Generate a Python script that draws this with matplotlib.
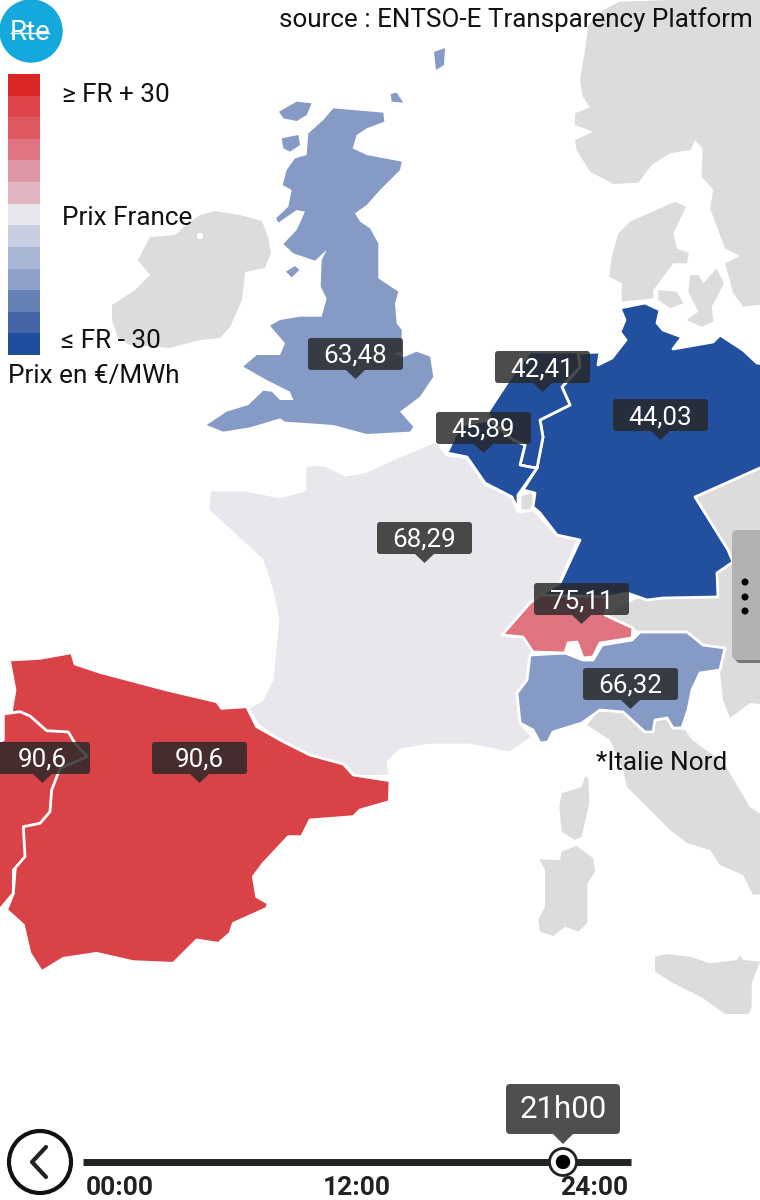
import matplotlib
matplotlib.use('Agg')
import matplotlib.pyplot as plt
from matplotlib.patches import Circle, FancyBboxPatch, Rectangle

plt.rcParams['font.family'] = ['Roboto', 'DejaVu Sans']

# prices shown on the map
price_labels = ['63,48', '42,41', '44,03', '45,89', '68,29', '75,11', '66,32', '90,6', '90,6']
label_left = [308, 495, 613, 436, 377, 534, 583, -5, 152]
label_top = [338, 351, 399, 412, 522, 583, 668, 742, 742]

legend_colors = ['#DC2626', '#DD4349', '#DF5A60', '#DF7480', '#E097A5', '#E2B5C1', '#E9E6EE',
                 '#C8CEE2', '#A9B7D6', '#8CA0C8', '#6582B7', '#4466A9', '#1F4E9E']
time_ticks = ['00:00', '12:00', '24:00']
time_tick_x = [120, 357, 594]
current_time = '21h00'

GREY = '#DCDCDC'
FR_COL = '#E9E6EE'
DE_COL = '#22509E'
UK_COL = '#859BC6'
ES_COL = '#D94246'
CH_COL = '#DF7480'


def crop(pts, x0, y0):
    return [(x0 + p[0] / 3, y0 + p[1] / 3) for p in pts]


gb = crop([(400, 55), (550, 68), (553, 95), (500, 115), (470, 135), (458, 175), (500, 195), (605, 215),
           (600, 240), (540, 300), (500, 345), (465, 370), (480, 395), (510, 415), (535, 460), (535, 565),
           (595, 605), (585, 640), (590, 700), (605, 720), (605, 785), (580, 790), (610, 802), (650, 785),
           (690, 800), (700, 860), (660, 920), (600, 965), (640, 1010), (630, 1025), (500, 1032), (400, 1005),
           (330, 1000), (255, 995), (240, 985), (150, 1012), (70, 1025), (20, 1005), (80, 965), (145, 945),
           (190, 902), (215, 905), (240, 930), (280, 930), (270, 905), (200, 870), (130, 830), (170, 795),
           (240, 795), (255, 760), (210, 707), (240, 690), (300, 680), (365, 680), (380, 625), (362, 590),
           (365, 510), (380, 480), (345, 512), (280, 490), (250, 462), (290, 420), (315, 365), (290, 360),
           (235, 398), (228, 385), (265, 350), (275, 300), (248, 285), (260, 240), (285, 205), (320, 195),
           (325, 130), (370, 90)], 200, 90)
gb_isles = [crop([(237, 65), (290, 35), (335, 40), (320, 75), (290, 93), (250, 85)], 200, 90),
            crop([(245, 145), (295, 135), (300, 165), (270, 185), (250, 175)], 200, 90),
            crop([(572, 12), (590, 8), (610, 38), (575, 35)], 200, 90),
            crop([(258, 545), (285, 528), (298, 540), (275, 562)], 200, 90),
            [(434, 52), (445, 48), (444, 65), (436, 70)]]
ireland = [(200, 215), (215, 211), (240, 215), (262, 221), (268, 237), (271, 253), (265, 268), (245, 272),
           (242, 300), (230, 327), (220, 338), (200, 340), (170, 348), (130, 345), (118, 338), (112, 320),
           (112, 305), (135, 290), (150, 275), (138, 260), (150, 237), (175, 235), (190, 222)]
france = [(436, 441), (447, 455), (467, 458), (485, 484), (512, 497), (518, 512), (534, 510), (552, 530),
          (578, 540), (565, 570), (560, 583), (540, 600), (530, 603), (502, 635), (523, 637), (533, 652),
          (530, 655), (527, 680), (517, 693), (520, 723), (533, 737), (510, 753), (470, 745), (430, 745),
          (400, 750), (388, 762), (390, 776), (355, 777), (345, 765), (310, 755), (280, 740), (258, 725),
          (248, 708), (262, 700), (272, 680), (275, 650), (278, 620), (272, 590), (262, 560), (235, 535),
          (208, 510), (210, 490), (245, 490), (280, 497), (305, 490), (305, 465), (325, 465), (345, 475),
          (365, 472), (395, 458)]
spain = crop([(28, 60), (120, 55), (215, 38), (225, 72), (300, 97), (500, 150), (650, 185), (665, 205),
              (740, 200), (770, 260), (850, 305), (930, 345), (1030, 372), (1060, 405), (1170, 422),
              (1168, 485), (1080, 510), (1060, 530), (930, 540), (905, 590), (865, 590), (790, 670),
              (760, 710), (770, 770), (805, 790), (800, 805), (700, 850), (690, 880), (655, 910), (590, 900),
              (520, 970), (400, 965), (290, 940), (190, 955), (125, 995), (90, 940), (70, 855), (20, 810),
              (40, 760), (60, 500), (35, 210), (45, 150)], 0, 640)
portugal = crop([(10, 222), (60, 215), (90, 228), (140, 272), (205, 276), (225, 310), (262, 350), (180, 385),
                 (155, 450), (150, 515), (120, 550), (70, 560), (75, 650), (40, 690), (40, 760), (0, 808),
                 (-20, 808), (-20, 310), (10, 300)], 0, 640)
germany = [(578, 353), (600, 352), (598, 365), (612, 358), (626, 340), (620, 332), (625, 320), (620, 308),
           (645, 303), (660, 310), (657, 323), (663, 330), (682, 337), (673, 349), (713, 342), (720, 335),
           (743, 350), (757, 363), (770, 365), (770, 463), (760, 468), (695, 497), (728, 550), (733, 562),
           (717, 573), (718, 597), (663, 598), (647, 600), (627, 593), (607, 597), (540, 595), (560, 583),
           (580, 540), (557, 535), (540, 513), (533, 507), (535, 493), (523, 490), (537, 468), (543, 437),
           (540, 420), (570, 405), (562, 387), (580, 367)]
netherlands = [(488, 412), (507, 383), (530, 352), (578, 352), (580, 367), (562, 387), (570, 405), (540, 420),
               (543, 437), (537, 468), (530, 467), (520, 465), (525, 445), (513, 440), (490, 420)]
belgium = [(447, 453), (467, 457), (485, 483), (512, 497), (518, 510), (518, 495), (537, 468), (530, 467),
           (520, 465), (525, 445), (513, 440), (490, 420), (460, 425)]
luxembourg = [(520, 495), (533, 491), (535, 503), (530, 512), (520, 510)]
switzerland = [(502, 635), (530, 603), (540, 595), (607, 597), (605, 615), (633, 628), (632, 638), (600, 643),
               (593, 657), (583, 658), (577, 642), (568, 643), (565, 653), (533, 652), (523, 637)]
italy_north = [(530, 655), (565, 653), (583, 660), (593, 660), (602, 645), (632, 640), (640, 632), (687, 632),
               (703, 645), (725, 648), (720, 670), (700, 673), (692, 690), (688, 710), (682, 728), (673, 728),
               (667, 718), (655, 720), (653, 732), (645, 732), (623, 712), (600, 710), (582, 723), (553, 732),
               (548, 742), (540, 743), (533, 730), (520, 723), (517, 693), (527, 680)]
italy_south = [(587, 725), (598, 712), (623, 712), (645, 732), (653, 732), (655, 720), (667, 718), (673, 728),
               (685, 730), (692, 740), (723, 762), (750, 807), (770, 820), (770, 893), (753, 895), (743, 875),
               (720, 865), (710, 850), (687, 843), (670, 830), (647, 807), (627, 787), (623, 770), (610, 740)]
central_east = [(695, 497), (770, 463), (770, 705), (750, 703), (730, 718), (723, 700), (720, 672), (725, 648),
                (703, 645), (687, 632), (640, 632), (633, 628), (605, 615), (640, 597), (718, 590), (717, 573),
                (728, 550)]
corsica = crop([(225, 260), (235, 265), (238, 340), (215, 440), (195, 450), (155, 425), (148, 350), (155, 310),
                (215, 290)], 510, 690)
sardinia = crop([(200, 468), (250, 505), (255, 545), (232, 580), (232, 700), (205, 725), (165, 710), (130, 738),
                 (90, 725), (85, 690), (105, 650), (105, 540), (88, 508), (150, 510), (155, 485)], 510, 690)
sicily = crop([(435, 800), (470, 792), (540, 800), (600, 820), (680, 810), (690, 797), (700, 810), (750, 815),
               (725, 880), (725, 950), (715, 972), (645, 972), (580, 925), (490, 880), (435, 845)], 510, 690)
scandinavia = crop([(300, 5), (760, -10), (760, 910), (670, 920), (640, 880), (615, 790), (660, 768), (615, 745),
                    (570, 625), (580, 570), (545, 530), (548, 445), (525, 420), (512, 450), (450, 460), (395, 495),
                    (355, 548), (280, 552), (210, 515), (170, 450), (165, 420), (220, 395), (165, 375), (165, 340),
                    (210, 322), (188, 290), (180, 240), (195, 150), (205, 75), (250, 30)], 520, 0)
denmark = crop([(465, 605), (498, 620), (460, 700), (470, 745), (507, 760), (500, 790), (460, 790), (400, 870),
                (400, 895), (305, 905), (305, 850), (268, 830), (275, 770), (295, 700), (330, 665)], 520, 0)
dk_isles = [crop([(415, 870), (470, 875), (490, 910), (450, 925), (415, 900)], 520, 0),
            crop([(510, 825), (535, 825), (550, 850), (590, 805), (612, 850), (575, 920), (580, 965), (545, 980),
                  (500, 960), (535, 935), (505, 875)], 520, 0)]

fig = plt.figure(figsize=(7.6, 12), dpi=100)
ax = fig.add_axes([0, 0, 1, 1])
ax.set_xlim(0, 760)
ax.set_ylim(1200, 0)
ax.axis('off')


def land(pts, col, edge=True):
    ax.fill([p[0] for p in pts], [p[1] for p in pts], facecolor=col,
            edgecolor='white' if edge else col, linewidth=2 if edge else 0, joinstyle='round')


for shape in [ireland, italy_south, central_east, corsica, sardinia, sicily, scandinavia, denmark] + dk_isles:
    land(shape, GREY, edge=False)
ax.add_patch(Circle((200, 236), 2.5, color='white'))

land(luxembourg, GREY)
land(france, FR_COL)
land(spain, ES_COL)
land(portugal, ES_COL)
land(germany, DE_COL)
land(netherlands, DE_COL)
land(belgium, DE_COL)
land(italy_north, UK_COL)
land(switzerland, CH_COL)
land(gb, UK_COL, edge=False)
for shape in gb_isles:
    land(shape, UK_COL, edge=False)

# price tags
for txt, x, y in zip(price_labels, label_left, label_top):
    ax.add_patch(FancyBboxPatch((x, y), 95, 32, boxstyle='round,pad=0,rounding_size=3',
                                facecolor='#282828', edgecolor='none', alpha=0.83))
    ax.fill([x + 38, x + 57, x + 47.5], [y + 32, y + 32, y + 41], facecolor='#282828', alpha=0.83, linewidth=0)
    ax.text(x + 47.5, y + 18, txt, color='white', fontsize=18.7, ha='center', va='center')

# legend scale
for i, c in enumerate(legend_colors):
    ax.add_patch(Rectangle((8, 74 + i * 21.62), 32, 21.62, facecolor=c, edgecolor='none'))
ax.text(62, 95, '≥ FR + 30', fontsize=18.8, ha='left', va='center', color='#111111')
ax.text(62, 218, 'Prix France', fontsize=18.8, ha='left', va='center', color='#111111')
ax.text(61, 341, '≤ FR - 30', fontsize=18.8, ha='left', va='center', color='#111111')
ax.text(8, 376, 'Prix en €/MWh', fontsize=18.8, ha='left', va='center', color='#111111')
ax.text(753, 20, 'source : ENTSO-E Transparency Platform', fontsize=18.7, ha='right', va='center', color='#111111')
ax.text(596, 763, '*Italie Nord', fontsize=18.8, ha='left', va='center', color='#111111')

# Rte logo
ax.add_patch(Circle((31, 31), 31, color='#14A8DC'))
ax.text(30, 32, 'Rte', color='white', fontsize=20, ha='center', va='center')
ax.plot([11, 49], [33, 33], color='white', lw=1)

# side handle
ax.add_patch(FancyBboxPatch((735, 533), 40, 130, boxstyle='round,pad=0,rounding_size=6',
                            facecolor='#777777', edgecolor='none'))
ax.add_patch(FancyBboxPatch((732, 530), 40, 130, boxstyle='round,pad=0,rounding_size=6',
                            facecolor='#B2B2B2', edgecolor='none'))
for yy in [582, 597, 611]:
    ax.add_patch(Circle((745, yy), 2.8, color='black'))

# timeline
ax.add_patch(Circle((40, 1162), 31, facecolor='white', edgecolor='#111111', linewidth=3))
ax.plot([46, 32, 46], [1147, 1162, 1177], color='#222222', lw=3, solid_capstyle='round', solid_joinstyle='round')
ax.plot([83, 631], [1162, 1162], color='#1F2523', lw=5, solid_capstyle='butt')
ax.add_patch(Circle((563, 1162), 13.5, facecolor='white', edgecolor='#222222', linewidth=2, zorder=3))
ax.add_patch(Circle((563, 1162), 6.5, color='black', zorder=4))
ax.add_patch(FancyBboxPatch((506, 1084), 114, 50, boxstyle='round,pad=0,rounding_size=4',
                            facecolor='#4E504E', edgecolor='none'))
ax.fill([553, 573, 563], [1134, 1134, 1144], facecolor='#4E504E', linewidth=0)
ax.text(563, 1110, current_time, color='white', fontsize=22.5, ha='center', va='center')
for lab, x in zip(time_ticks, time_tick_x):
    ax.text(x, 1188, lab, fontsize=19, fontweight='bold', ha='center', va='center', color='#222222')

fig.savefig('out.png', dpi=100)
